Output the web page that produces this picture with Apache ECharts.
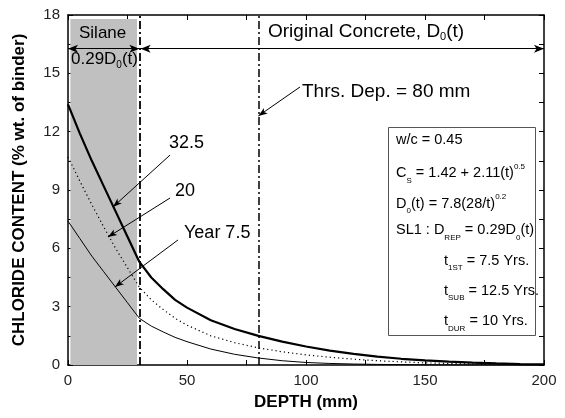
<!DOCTYPE html>
<html><head><meta charset="utf-8">
<script src="https://cdn.jsdelivr.net/npm/echarts@6/dist/echarts.min.js"></script>
<style>html,body{margin:0;padding:0;background:#fff}#c{width:565px;height:418px}</style>
</head><body><div id="c"></div>
<script>
// ---- data ----
const depth    = [0,5,10,15,20,25,30,35,40,45,50,60,70,80,90,100,110,120,130,140,150,160,170,180,190,200];
const year32_5 = [13.4,11.9,10.5,9.2,7.9,6.6,5.3,4.5,3.9,3.35,2.95,2.3,1.85,1.5,1.2,0.95,0.74,0.57,0.43,0.32,0.24,0.17,0.12,0.08,0.05,0.03];
const year20   = [10.7,9.45,8.25,7.1,6.0,5.0,4.0,3.35,2.85,2.4,2.05,1.5,1.15,0.88,0.68,0.52,0.4,0.3,0.22,0.16,0.11,0.08,0.05,0.035,0.02,0.015];
const year7_5  = [7.4,6.5,5.6,4.8,4.0,3.2,2.4,2.0,1.7,1.42,1.2,0.82,0.55,0.36,0.22,0.13,0.08,0.05,0.03,0.02,0.01,0.005,0,0,0,0];
const xTickLabels = [0,50,100,150,200];
const yTickLabels = [0,3,6,9,12,15,18];
const silaneDepth = 30;
const thresholdDepth = 80;
const zoneArrowLevel = 16.27;
// annotation arrows: [from, to] in data units
const arrow32_5 = [[42.9,10.8],[18.9,8.13]];
const arrow20   = [[42.9,8.59],[16.8,6.58]];
const arrow7_5  = [[46.2,6.43],[19.7,4.01]];
const arrowThr  = [[97.5,14.3],[80,12.81]];

const pair = (xs, ys) => xs.map((x,i)=>[x, ys[i]]);
const FONT = '"Liberation Sans", Arial, sans-serif';
const chart = echarts.init(document.getElementById('c'));

const axisCommon = {
  axisLine:{show:true, onZero:false, lineStyle:{color:'#000', width:1.5}},
  axisTick:{show:true, inside:true, length:5, lineStyle:{color:'#000', width:1}},
  splitLine:{show:false}
};
const blackLine = (w, type) => ({color:'#000', width:w, type:type||'solid'});

chart.setOption({
  animation:false,
  backgroundColor:'#fff',
  grid:{left:68, right:21, top:15, bottom:53},
  xAxis:[
    Object.assign({type:'value', min:0, max:200, interval:25, position:'bottom',
      name:'DEPTH (mm)', nameLocation:'middle', nameGap:29,
      nameTextStyle:{fontFamily:FONT, fontWeight:'bold', fontSize:17, color:'#000'},
      axisLabel:{fontFamily:FONT, fontSize:15, color:'#222', margin:8,
        formatter:v => xTickLabels.includes(v) ? String(v) : ''}}, axisCommon),
    Object.assign({type:'value', min:0, max:200, interval:25, position:'top',
      axisLabel:{show:false}}, axisCommon)
  ],
  yAxis:[
    Object.assign({type:'value', min:0, max:18, interval:1.5, position:'left',
      name:'CHLORIDE CONTENT (% wt. of binder)', nameLocation:'middle', nameGap:40,
      nameTextStyle:{fontFamily:FONT, fontWeight:'bold', fontSize:17, color:'#000'},
      axisLabel:{fontFamily:FONT, fontSize:15, color:'#222', margin:8,
        formatter:v => yTickLabels.includes(Math.round(v*100)/100) ? String(v) : ''}}, axisCommon),
    Object.assign({type:'value', min:0, max:18, interval:1.5, position:'right',
      axisLabel:{show:false}}, axisCommon)
  ],
  series:[
    {type:'line', name:'7.5', data:pair(depth, year7_5), showSymbol:false, z:5,
      lineStyle:blackLine(1),
      markArea:{silent:true, itemStyle:{color:'#c0c0c0'},
        data:[[{coord:[1, 0]},{coord:[silaneDepth-1, 17.8]}]]},
      markLine:{silent:true, symbol:['none','none'], label:{show:false}, animation:false,
        data:[
          [{coord:[silaneDepth,0], lineStyle:blackLine(1.8,[8,3,2,3])},{coord:[silaneDepth,18]}],
          [{coord:[thresholdDepth,0], lineStyle:blackLine(1.5,[8,3,2,3])},{coord:[thresholdDepth,18]}],
          [{coord:[0,zoneArrowLevel], symbol:'arrow', symbolSize:[6,10], lineStyle:blackLine(1)},{coord:[silaneDepth,zoneArrowLevel], symbol:'arrow', symbolSize:[6,10]}],
          [{coord:[silaneDepth+0.5,zoneArrowLevel], symbol:'arrow', symbolSize:[6,10], lineStyle:blackLine(1)},{coord:[200,zoneArrowLevel], symbol:'arrow', symbolSize:[6,10]}],
          [{coord:arrow32_5[0], symbol:'none', lineStyle:blackLine(1)},{coord:arrow32_5[1], symbol:'arrow', symbolSize:[5,9]}],
          [{coord:arrow20[0], symbol:'none', lineStyle:blackLine(1)},{coord:arrow20[1], symbol:'arrow', symbolSize:[5,9]}],
          [{coord:arrow7_5[0], symbol:'none', lineStyle:blackLine(1)},{coord:arrow7_5[1], symbol:'arrow', symbolSize:[5,9]}],
          [{coord:arrowThr[0], symbol:'none', lineStyle:blackLine(1)},{coord:arrowThr[1], symbol:'arrow', symbolSize:[5,9]}]
        ]}
    },
    {type:'line', name:'20', data:pair(depth, year20), showSymbol:false, z:5,
      lineStyle:{color:'#000', width:1.2, type:[1.2,3]}},
    {type:'line', name:'32.5', data:pair(depth, year32_5), showSymbol:false, z:5,
      lineStyle:blackLine(2.2)}
  ]
});

function mkRich(fs, ss){
  return {
    n:{fontFamily:FONT, fontSize:fs, color:'#000', lineHeight:22, verticalAlign:'middle'},
    sub:{fontFamily:FONT, fontSize:ss, color:'#000', lineHeight:22, verticalAlign:'bottom'},
    sup:{fontFamily:FONT, fontSize:ss, color:'#000', lineHeight:22, verticalAlign:'top'}
  };
}
const richBox = mkRich(14.5, 8);
const richA = mkRich(18, 10);
const richS = mkRich(17, 10);
const richL = mkRich(19, 11);
function txt(x, y, s, r, align){
  return {type:'text', left:x, top:y, z:100, style:{text:s, rich:r||richA, textAlign:align||'left', textVerticalAlign:'middle'}};
}
const boxLines = [
  '{n|w/c = 0.45}',
  '{n|C}{sub|S}{n| = 1.42 + 2.11(t)}{sup|0.5}',
  '{n|D}{sub|0}{n|(t) = 7.8(28/t)}{sup|0.2}',
  '{n|SL1 : D}{sub|REP}{n| = 0.29D}{sub|0}{n|(t)}'
];
const boxLines2 = [
  '{n|t}{sub|1ST}{n| = 7.5 Yrs.}',
  '{n|t}{sub|SUB}{n| = 12.5 Yrs.}',
  '{n|t}{sub|DUR}{n| = 10 Yrs.}'
];
const graphics = [
  {type:'rect', z:90, shape:{x:388.5, y:127.5, width:147, height:208}, style:{fill:'#fff', stroke:'#555', lineWidth:1}},
  txt(79, 25, '{n|Silane}', richS),
  txt(71, 51, '{n|0.29D}{sub|0}{n|(t)}', richS),
  txt(268, 22, '{n|Original Concrete, D}{sub|0}{n|(t)}', richL),
  txt(302, 82, '{n|Thrs. Dep. = 80 mm}', richL),
  txt(169, 134, '{n|32.5}'),
  txt(175, 182, '{n|20}'),
  txt(184, 224, '{n|Year 7.5}')
];
boxLines.forEach((s,i)=>graphics.push(txt(396, 132 + i*30.3, s, richBox)));
boxLines2.forEach((s,i)=>graphics.push(txt(444, 132 + (i+4)*30.3, s, richBox)));
chart.setOption({graphic:graphics});
</script>
</body></html>
